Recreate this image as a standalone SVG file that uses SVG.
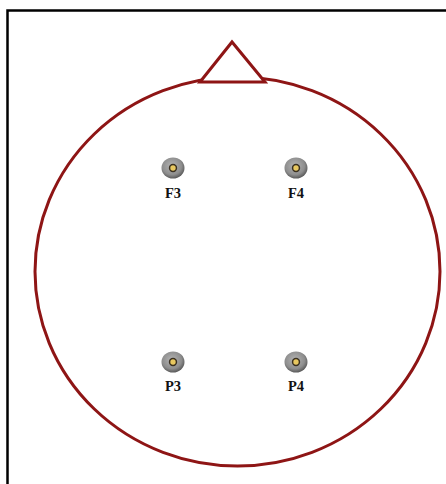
<svg xmlns="http://www.w3.org/2000/svg" width="446" height="484" viewBox="0 0 446 484">
<style>
.head{fill:none;stroke:#8e1515;stroke-width:3}
.lbl{font-family:"Liberation Serif",serif;font-weight:bold;font-size:14.5px;fill:#111;text-anchor:middle}
</style>
<defs>
<radialGradient id="g" cx="0.45" cy="0.4" r="0.6">
<stop offset="0" stop-color="#b4b4b4"/>
<stop offset="0.7" stop-color="#8e8e8e"/>
<stop offset="1" stop-color="#5a5a5a"/>
</radialGradient>
<g id="el">
<ellipse cx="0" cy="0" rx="11.5" ry="10.5" fill="url(#g)"/>
<circle cx="0" cy="0" r="4.2" fill="#3a3020"/>
<circle cx="0" cy="0" r="2.7" fill="#e8c860"/>
</g>
</defs>
<rect x="0" y="0" width="446" height="484" fill="#fff"/>
<path d="M7.5 484 V10.5 H446" fill="none" stroke="#000" stroke-width="2.5"/>
<g id="head">
<ellipse class="head" cx="237.5" cy="271.5" rx="202.5" ry="194.5"/>
<polygon points="200,82 232,42 265,82" fill="#fff" stroke="#8e1515" stroke-width="3" stroke-linejoin="miter"/>
</g>
<g id="F3"><use href="#el" x="173" y="168"/><text class="lbl" x="173" y="198">F3</text></g>
<g id="F4"><use href="#el" x="296" y="168"/><text class="lbl" x="296" y="198">F4</text></g>
<g id="P3"><use href="#el" x="173" y="362"/><text class="lbl" x="173" y="391">P3</text></g>
<g id="P4"><use href="#el" x="296" y="362"/><text class="lbl" x="296" y="391">P4</text></g>
<g id="connectors"></g>
</svg>
